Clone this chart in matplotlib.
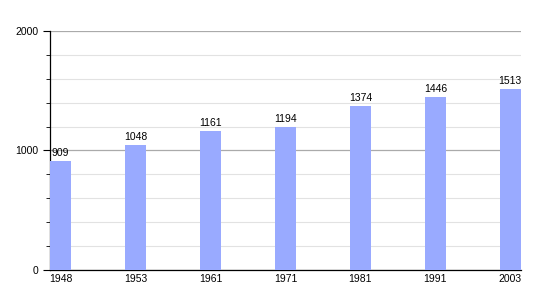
import matplotlib
matplotlib.use('Agg')
import matplotlib.pyplot as plt
from matplotlib.ticker import MultipleLocator

years = ['1948', '1953', '1961', '1971', '1981', '1991', '2003']
population = [909, 1048, 1161, 1194, 1374, 1446, 1513]

plt.rcParams['font.family'] = 'Liberation Sans'

fig = plt.figure(figsize=(5.5, 3), dpi=100)
ax = fig.add_axes([0.0909, 0.1, 0.856, 0.797])

x = range(len(years))
bars = ax.bar(x, population, width=0.28, color='#99aaff', zorder=3)
for xi, v in zip(x, population):
    ax.text(xi, v + 25, str(v), ha='center', va='bottom', fontsize=7.5)

ax.set_xlim(-0.14, len(years) - 1 + 0.14)
ax.set_ylim(0, 2000)
ax.set_xticks(list(x))
ax.set_xticklabels(years)
ax.yaxis.set_major_locator(MultipleLocator(1000))
ax.yaxis.set_minor_locator(MultipleLocator(200))

ax.grid(axis='y', which='major', color='#aaaaaa', linewidth=0.9, zorder=0)
ax.grid(axis='y', which='minor', color='#e2e2e2', linewidth=0.8, zorder=0)

for s in ['top', 'right']:
    ax.spines[s].set_visible(False)
ax.spines['left'].set_linewidth(0.9)
ax.spines['bottom'].set_linewidth(0.9)
ax.tick_params(axis='x', length=0, labelsize=7.5, pad=3)
ax.tick_params(axis='y', which='major', length=5, labelsize=7.5)
ax.tick_params(axis='y', which='minor', length=3)

fig.savefig('out.png', dpi=100)
